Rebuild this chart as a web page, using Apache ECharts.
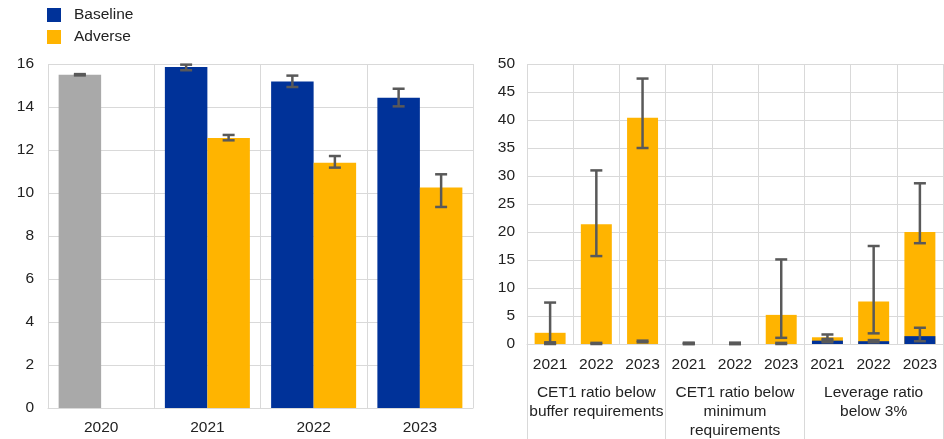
<!DOCTYPE html>
<html>
<head>
<meta charset="utf-8">
<script src="https://cdn.jsdelivr.net/npm/echarts@6/dist/echarts.min.js"></script>
<style>
  html, body { margin: 0; padding: 0; background: #fff; }
  #main { width: 944px; height: 439px; }
</style>
</head>
<body>
<div id="main"></div>
<script>
// left panel: CET1 ratio by year
var years = ['2020', '2021', '2022', '2023'];
var baseline = [15.5, 15.86, 15.19, 14.43];
var adverse = [null, 12.56, 11.41, 10.26];
var baselineLow = [15.47, 15.71, 14.93, 14.03];
var baselineHigh = [15.53, 15.97, 15.46, 14.85];
var adverseLow = [null, 12.45, 11.18, 9.35];
var adverseHigh = [null, 12.7, 11.72, 10.87];

// right panel: share of banks below thresholds
var rYears = ['2021', '2022', '2023', '2021', '2022', '2023', '2021', '2022', '2023'];
var groups = ['CET1 ratio below\nbuffer requirements', 'CET1 ratio below\nminimum\nrequirements', 'Leverage ratio\nbelow 3%'];
var rBaseline = [0, 0, 0, 0, 0, 0, 0.6, 0.5, 1.4];
var rAdverse = [2.0, 21.4, 40.4, 0, 0, 5.2, 1.2, 7.6, 20.0];
var rBaseLow = [0, 0, 0.3, 0, 0, 0, 0.3, 0.3, 0.5];
var rBaseHigh = [0.1, 0.2, 0.6, 0.2, 0.2, 0.2, 0.9, 0.7, 2.9];
var rAdvLow = [0.3, 15.7, 35.0, 0, 0, 1.1, 0.6, 1.9, 18.0];
var rAdvHigh = [7.4, 31.0, 47.4, 0.2, 0.2, 15.1, 1.7, 17.5, 28.7];

var blue = '#003299';
var yellow = '#FFB400';
var grey = '#A9A9A9';
var gridColor = '#D9D9D9';
var font = 'Liberation Sans, Arial, sans-serif';
var fs = 15.5;

// 把上下限组合成误差线数据
function errData (low, high) {
  return low.map(function (v, i) {
    if (v === null) return [i, '-', '-'];
    return [i, v, high[i]];
  });
}

// 误差线绘制, offset 为相对类目中心的偏移(类目宽度的比例)
function errorBar (offset) {
  return function (params, api) {
    var lowV = api.value(1);
    if (isNaN(lowV)) return;
    var x = api.value(0);
    var lo = api.coord([x, lowV]);
    var hi = api.coord([x, api.value(2)]);
    var band = api.size([1, 0])[0];
    var cx = lo[0] + offset * band;
    var w = 6;
    var style = { stroke: '#595959', lineWidth: 2.5 };
    return {
      type: 'group',
      children: [
        { type: 'line', shape: { x1: cx, y1: lo[1], x2: cx, y2: hi[1] }, style: style },
        { type: 'line', shape: { x1: cx - w, y1: lo[1], x2: cx + w, y2: lo[1] }, style: style },
        { type: 'line', shape: { x1: cx - w, y1: hi[1], x2: cx + w, y2: hi[1] }, style: style }
      ]
    };
  };
}

var myChart = echarts.init(document.getElementById('main'));
var option = {
  animation: false,
  textStyle: { fontFamily: font },
  legend: {
    orient: 'vertical',
    left: 47,
    top: 7,
    padding: 0,
    itemWidth: 14,
    itemHeight: 14,
    itemGap: 6,
    icon: 'rect',
    data: ['Baseline', 'Adverse'],
    textStyle: { fontSize: fs, color: '#222', fontFamily: font, padding: [0, 0, 0, 8] }
  },
  grid: [
    { left: 48, right: 471, top: 64, bottom: 31, outerBoundsMode: 'none' },
    { left: 527, right: 1, top: 64, bottom: 95, outerBoundsMode: 'none' }
  ],
  xAxis: [
    {
      gridIndex: 0,
      type: 'category',
      data: years,
      axisLine: { lineStyle: { color: gridColor } },
      axisTick: { show: false },
      axisLabel: { color: '#222', fontSize: fs, margin: 12, fontFamily: font },
      splitLine: { show: true, interval: 0, lineStyle: { color: gridColor } }
    },
    {
      gridIndex: 1,
      type: 'category',
      data: rYears,
      axisLine: { lineStyle: { color: gridColor } },
      axisTick: { show: false },
      axisLabel: { color: '#222', fontSize: fs, margin: 13, interval: 0, fontFamily: font },
      splitLine: { show: true, interval: 0, lineStyle: { color: gridColor } }
    },
    {
      gridIndex: 1,
      type: 'category',
      position: 'bottom',
      data: groups,
      axisLine: { show: false },
      axisTick: { show: true, interval: 0, length: 96, lineStyle: { color: gridColor } },
      axisLabel: { color: '#222', fontSize: fs, margin: 39, interval: 0, lineHeight: 19, fontFamily: font }
    }
  ],
  yAxis: [
    {
      gridIndex: 0,
      type: 'value',
      min: 0,
      max: 16,
      interval: 2,
      axisLine: { show: false },
      axisTick: { show: false },
      axisLabel: { color: '#222', fontSize: fs, margin: 14, fontFamily: font },
      splitLine: { lineStyle: { color: gridColor } }
    },
    {
      gridIndex: 1,
      type: 'value',
      min: 0,
      max: 50,
      interval: 5,
      axisLine: { show: false },
      axisTick: { show: false },
      axisLabel: { color: '#222', fontSize: fs, margin: 12, fontFamily: font },
      splitLine: { lineStyle: { color: gridColor } }
    }
  ],
  series: [
    {
      name: 'Baseline',
      type: 'bar',
      xAxisIndex: 0,
      yAxisIndex: 0,
      itemStyle: { color: blue },
      data: baseline.map(function (v, i) {
        return i === 0 ? { value: v, itemStyle: { color: grey } } : v;
      }),
      barGap: 0,
      barCategoryGap: '20%'
    },
    {
      name: 'Adverse',
      type: 'bar',
      xAxisIndex: 0,
      yAxisIndex: 0,
      itemStyle: { color: yellow },
      data: adverse,
      barGap: 0,
      barCategoryGap: '20%'
    },
    {
      type: 'custom',
      xAxisIndex: 0,
      yAxisIndex: 0,
      renderItem: errorBar(-0.2),
      encode: { x: 0, y: [1, 2] },
      data: errData(baselineLow, baselineHigh),
      z: 5
    },
    {
      type: 'custom',
      xAxisIndex: 0,
      yAxisIndex: 0,
      renderItem: errorBar(0.2),
      encode: { x: 0, y: [1, 2] },
      data: errData(adverseLow, adverseHigh),
      z: 5
    },
    // 右图: 逆境在下, 基准叠加在上面
    {
      name: 'Adverse',
      type: 'bar',
      xAxisIndex: 1,
      yAxisIndex: 1,
      itemStyle: { color: yellow },
      data: rAdverse,
      barGap: '-100%',
      barCategoryGap: '33%'
    },
    {
      name: 'Baseline',
      type: 'bar',
      xAxisIndex: 1,
      yAxisIndex: 1,
      itemStyle: { color: blue },
      data: rBaseline,
      barGap: '-100%',
      barCategoryGap: '33%'
    },
    {
      type: 'custom',
      xAxisIndex: 1,
      yAxisIndex: 1,
      renderItem: errorBar(0),
      encode: { x: 0, y: [1, 2] },
      data: errData(rAdvLow, rAdvHigh),
      z: 5
    },
    {
      type: 'custom',
      xAxisIndex: 1,
      yAxisIndex: 1,
      renderItem: errorBar(0),
      encode: { x: 0, y: [1, 2] },
      data: errData(rBaseLow, rBaseHigh),
      z: 5
    }
  ]
};
myChart.setOption(option);
</script>
</body>
</html>
